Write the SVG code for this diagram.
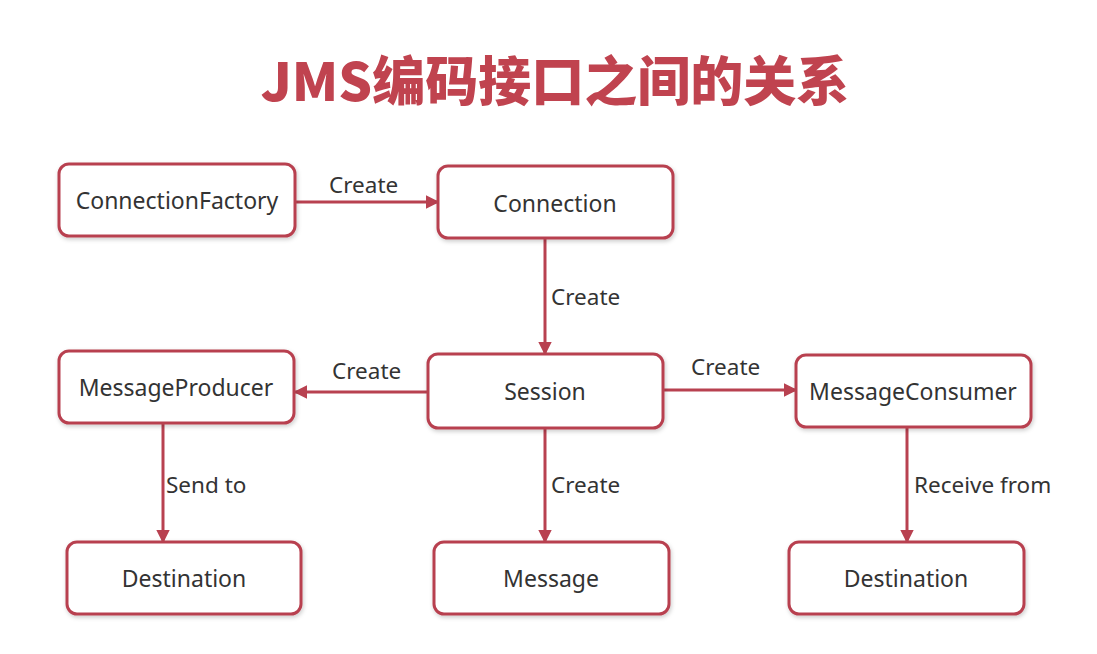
<svg xmlns="http://www.w3.org/2000/svg" width="1097" height="654" viewBox="0 0 1097 654">
<style>
.box{fill:#fff;stroke:#b84150;stroke-width:3}
.lbl{font-family:"Noto Sans","Open Sans","Liberation Sans",sans-serif;font-size:23px;fill:#333;text-anchor:middle;dominant-baseline:central}
.el{font-family:"Noto Sans","Open Sans","Liberation Sans",sans-serif;font-size:22.5px;fill:#333}
.edge{stroke:#b84150;stroke-width:3;fill:none;marker-end:url(#arr)}
.title{font-family:"Noto Sans CJK SC","Noto Sans",sans-serif;font-weight:900;font-size:53px;fill:#c0434f;text-anchor:middle}
</style>
<defs>
<marker id="arr" viewBox="0 0 10 10" refX="9" refY="5" markerWidth="4.5" markerHeight="4.5" orient="auto" markerUnits="strokeWidth">
<path d="M0,0 L10,5 L0,10 z" fill="#b84150"/>
</marker>
<filter id="sh" x="-10%" y="-10%" width="120%" height="130%">
<feDropShadow dx="1" dy="2" stdDeviation="2" flood-color="#000" flood-opacity="0.2"/>
</filter>
</defs>
<rect width="1097" height="654" fill="#fff"/>
<text class="title" x="555" y="101">JMS编码接口之间的关系</text>
<g id="connectors">
<line class="edge" x1="295" y1="202" x2="438" y2="202"/>
<text class="el" x="329" y="193">Create</text>
<line class="edge" x1="545" y1="238" x2="545" y2="354"/>
<text class="el" x="551" y="305">Create</text>
<line class="edge" x1="428" y1="392" x2="295" y2="392"/>
<text class="el" x="332" y="379">Create</text>
<line class="edge" x1="663" y1="390" x2="796" y2="390"/>
<text class="el" x="691" y="375">Create</text>
<line class="edge" x1="163" y1="423" x2="163" y2="542"/>
<text class="el" x="166" y="493">Send to</text>
<line class="edge" x1="545" y1="428" x2="545" y2="542"/>
<text class="el" x="551" y="493">Create</text>
<line class="edge" x1="907" y1="427" x2="907" y2="542"/>
<text class="el" x="914" y="493">Receive from</text>
</g>
<g id="connectionFactory"><rect class="box" filter="url(#sh)" x="59" y="164" width="236" height="72" rx="10"/><text class="lbl" x="177" y="200">ConnectionFactory</text></g>
<g id="connection"><rect class="box" filter="url(#sh)" x="438" y="166" width="235" height="72" rx="10"/><text class="lbl" x="555" y="203">Connection</text></g>
<g id="session"><rect class="box" filter="url(#sh)" x="428" y="354" width="235" height="74" rx="10"/><text class="lbl" x="545" y="391">Session</text></g>
<g id="messageProducer"><rect class="box" filter="url(#sh)" x="59" y="351" width="235" height="72" rx="10"/><text class="lbl" x="176" y="387">MessageProducer</text></g>
<g id="messageConsumer"><rect class="box" filter="url(#sh)" x="796" y="355" width="235" height="72" rx="10"/><text class="lbl" x="913" y="391">MessageConsumer</text></g>
<g id="destination1"><rect class="box" filter="url(#sh)" x="67" y="542" width="234" height="72" rx="10"/><text class="lbl" x="184" y="578">Destination</text></g>
<g id="message"><rect class="box" filter="url(#sh)" x="434" y="542" width="235" height="72" rx="10"/><text class="lbl" x="551" y="578">Message</text></g>
<g id="destination2"><rect class="box" filter="url(#sh)" x="789" y="542" width="235" height="72" rx="10"/><text class="lbl" x="906" y="578">Destination</text></g>
</svg>
